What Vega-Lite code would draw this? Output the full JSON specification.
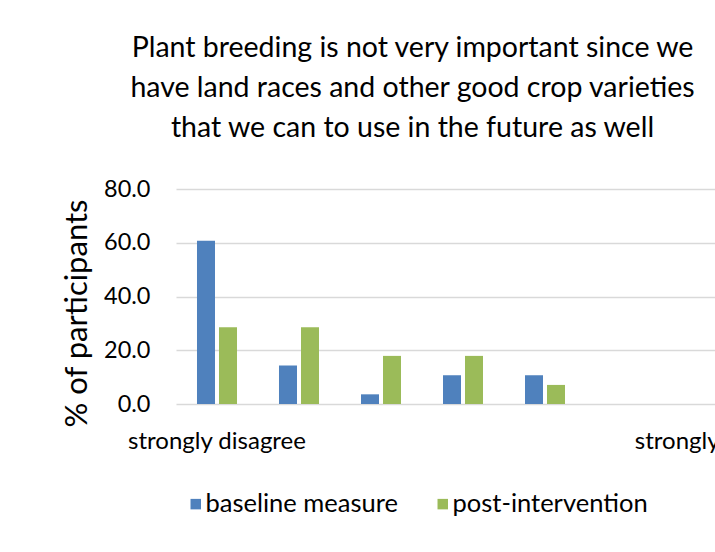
{
  "$schema": "https://vega.github.io/schema/vega-lite/v6.json",
  "autosize": "none",
  "width": 539,
  "height": 215,
  "padding": {"left": 176, "top": 189, "right": 0, "bottom": 148},
  "background": "white",
  "title": {
    "text": ["Plant breeding is not very important since we", "have land races and other good crop varieties", "that we can to use in the future as well"],
    "font": "Lato",
    "fontSize": 28.5,
    "fontWeight": "normal",
    "color": "#000000",
    "lineHeight": 40,
    "anchor": "middle",
    "dx": -33,
    "offset": 35
  },
  "data": {
    "values": [
      {"rating": 1, "group": "baseline measure", "pct": 60.7},
      {"rating": 1, "group": "post-intervention", "pct": 28.6},
      {"rating": 2, "group": "baseline measure", "pct": 14.3},
      {"rating": 2, "group": "post-intervention", "pct": 28.6},
      {"rating": 3, "group": "baseline measure", "pct": 3.6},
      {"rating": 3, "group": "post-intervention", "pct": 17.9},
      {"rating": 4, "group": "baseline measure", "pct": 10.7},
      {"rating": 4, "group": "post-intervention", "pct": 17.9},
      {"rating": 5, "group": "baseline measure", "pct": 10.7},
      {"rating": 5, "group": "post-intervention", "pct": 7.1},
      {"rating": 6, "group": "baseline measure", "pct": 0},
      {"rating": 6, "group": "post-intervention", "pct": 0},
      {"rating": 7, "group": "baseline measure", "pct": 0},
      {"rating": 7, "group": "post-intervention", "pct": 0}
    ]
  },
  "mark": {"type": "bar", "clip": false},
  "encoding": {
    "x": {
      "field": "rating",
      "type": "ordinal",
      "scale": {"range": [0, 574], "paddingInner": 0.512, "paddingOuter": 0.256},
      "axis": {
        "title": null,
        "labelExpr": "datum.value == 1 ? 'strongly disagree' : datum.value == 7 ? 'strongly agree' : ''",
        "labelAngle": 0,
        "labelFont": "Lato",
        "labelFontSize": 24,
        "labelColor": "#000000",
        "labelPadding": 25,
        "labelLimit": 400,
        "ticks": false,
        "domain": false,
        "grid": false
      }
    },
    "xOffset": {
      "field": "group",
      "type": "nominal",
      "scale": {"paddingInner": 0.1818, "paddingOuter": 0}
    },
    "y": {
      "field": "pct",
      "type": "quantitative",
      "scale": {"domain": [0, 80]},
      "axis": {
        "title": "% of participants",
        "titleFont": "Lato",
        "titleFontSize": 31,
        "titleFontWeight": "normal",
        "titleColor": "#000000",
        "titleX": -83,
        "titleY": 124,
        "values": [0, 20, 40, 60, 80],
        "format": ".1f",
        "labelFont": "Lato",
        "labelFontSize": 23.5,
        "labelColor": "#000000",
        "labelPadding": 26,
        "ticks": false,
        "domain": false,
        "grid": true,
        "gridColor": "#d9d9d9",
        "gridWidth": 1.3
      }
    },
    "color": {
      "field": "group",
      "type": "nominal",
      "scale": {"domain": ["baseline measure", "post-intervention"], "range": ["#4F81BD", "#9BBB59"]},
      "legend": {
        "title": null,
        "orient": "none",
        "direction": "horizontal",
        "legendX": 7,
        "legendY": 302,
        "symbolType": "square",
        "symbolSize": 110,
        "symbolStrokeWidth": 0,
        "labelFont": "Lato",
        "labelFontSize": 25.5,
        "labelColor": "#000000",
        "labelLimit": 300,
        "columnPadding": 32,
        "labelOffset": -3
      }
    }
  },
  "config": {"view": {"stroke": null}}
}
